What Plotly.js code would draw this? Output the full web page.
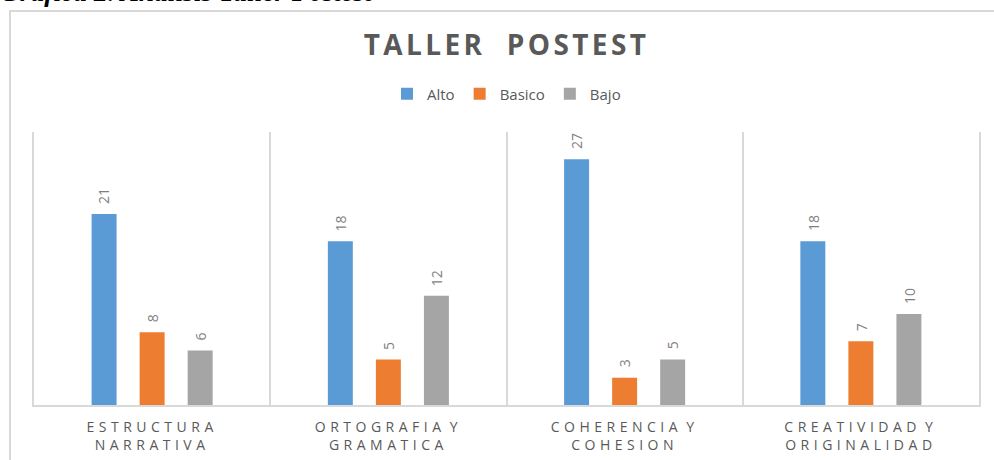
<!DOCTYPE html>
<html>
<head>
<meta charset="utf-8">
<script src="https://cdn.plot.ly/plotly-3.0.1.min.js"></script>
<style>
  html, body { margin: 0; padding: 0; background: #fff; overflow: hidden; }
  #wrap { position: relative; width: 994px; height: 460px; overflow: hidden; }
  #caption { position: absolute; left: 0px; top: -22px; font-family: "Liberation Serif", serif; font-weight: bold; font-style: italic; font-size: 27.5px; line-height: 27.5px; color: #000; white-space: nowrap; }
  #frame { position: absolute; left: 9px; top: 10px; width: 1100px; height: 600px; border-top: 2px solid #d9d9d9; border-left: 2px solid #d9d9d9; box-sizing: border-box; background: #fff; }
  #chart { position: absolute; left: 0; top: 0; width: 994px; height: 460px; }
  .gtitle { letter-spacing: 3.4px; }
  .xtick text { letter-spacing: 4.5px; word-spacing: -4px; }
</style>
</head>
<body>
<div id="wrap">
  <div id="caption">Gráfica 2. Análisis Taller Postest</div>
  <div id="frame"></div>
  <div id="chart"></div>
</div>
<script>
const categories = ["ESTRUCTURA<br>NARRATIVA", "ORTOGRAFIA Y<br>GRAMATICA", "COHERENCIA Y<br>COHESION", "CREATIVIDAD Y<br>ORIGINALIDAD"];
const seriesNames = ["Alto", "Basico", "Bajo"];
const alto = [21, 18, 27, 18];
const basico = [8, 5, 3, 7];
const bajo = [6, 12, 5, 10];
const seriesValues = [alto, basico, bajo];
const colors = ["#5B9BD5", "#ED7D31", "#A5A5A5"];

const W = 994, H = 460;
const margin = { l: 34, r: 15, t: 132, b: 55 };
const bargap = 0.39, bargroupgap = 0.48;

const plotW = W - margin.l - margin.r;
const slotPx = plotW / categories.length * (1 - bargap) / seriesValues.length;

const traces = seriesValues.map((vals, i) => ({
  type: "bar",
  name: seriesNames[i],
  x: categories,
  y: vals,
  marker: { color: colors[i] },
  hoverinfo: "none"
}));

const annotations = [];
seriesValues.forEach((vals, i) => {
  vals.forEach((v, j) => {
    annotations.push({
      x: categories[j], y: v, xref: "x", yref: "y",
      text: String(v), showarrow: false, textangle: -90,
      xanchor: "center", yanchor: "bottom",
      xshift: (i - (seriesValues.length - 1) / 2) * slotPx,
      yshift: 8,
      font: { family: "Open Sans, sans-serif", size: 14, color: "#7f7f7f" }
    });
  });
});

const layout = {
  width: W, height: H,
  margin: margin,
  paper_bgcolor: "rgba(0,0,0,0)",
  plot_bgcolor: "rgba(0,0,0,0)",
  barmode: "group",
  bargap: bargap,
  bargroupgap: bargroupgap,
  title: {
    text: "TALLER\u00a0 POSTEST",
    x: 0.5, xref: "paper", xanchor: "center",
    y: 1 - 45 / H, yref: "container", yanchor: "middle",
    font: { family: "Open Sans, sans-serif", size: 28, color: "#595959", weight: "bold" }
  },
  showlegend: true,
  legend: {
    orientation: "h", x: 0.5, xanchor: "center", y: (H - margin.b - 94) / (H - margin.t - margin.b), yanchor: "middle",
    font: { family: "Open Sans, sans-serif", size: 15, color: "#595959" },
    itemwidth: 30, bgcolor: "rgba(0,0,0,0)"
  },
  xaxis: {
    type: "category",
    tickson: "boundaries",
    showgrid: true, gridcolor: "#d9d9d9", gridwidth: 2,
    showline: true, linecolor: "#d9d9d9", linewidth: 2,
    ticks: "", ticklen: 0,
    ticklabelstandoff: 8,
    tickfont: { family: "Open Sans, sans-serif", size: 14, color: "#595959" },
    fixedrange: true
  },
  yaxis: {
    range: [0, 30],
    showgrid: false, zeroline: false,
    showline: true, mirror: true, linecolor: "#d9d9d9", linewidth: 2,
    showticklabels: false, ticks: "",
    fixedrange: true
  },
  annotations: annotations
};

Plotly.newPlot("chart", traces, layout, { displayModeBar: false, staticPlot: true });
</script>
</body>
</html>
